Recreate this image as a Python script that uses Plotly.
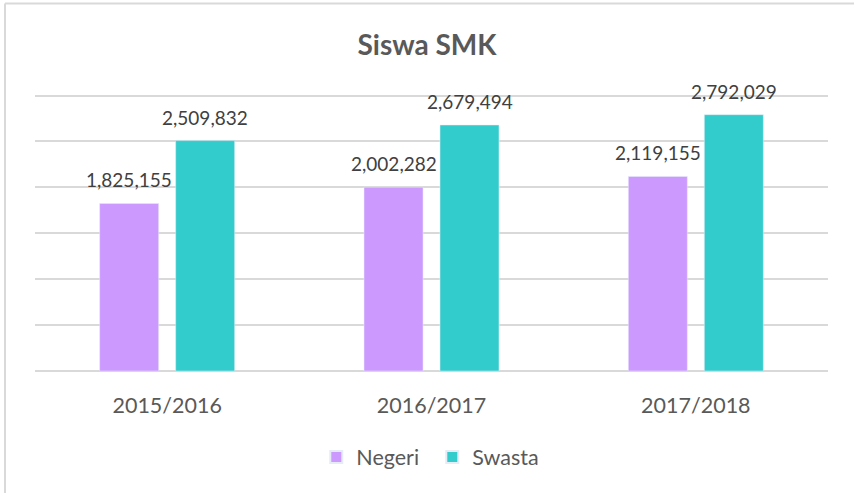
import plotly.graph_objects as go

categories = ["2015/2016", "2016/2017", "2017/2018"]
negeri = [1825155, 2002282, 2119155]
swasta = [2509832, 2679494, 2792029]

W, H = 854, 493
YMAX = 3050000
L, R, B = 35, 26, 122
PX_PER_UNIT = 275 / 3000000
ph = YMAX * PX_PER_UNIT
T = H - B - ph
pw = W - L - R

def px_x(x):
    return (x - L) / pw

def px_y(y):
    return (H - B - y) / ph

fnt = "Lato, Calibri, 'Open Sans', sans-serif"
lab_font = dict(size=19, color="#404040", family=fnt)

fig = go.Figure()
fig.add_trace(go.Bar(name="Negeri", x=categories, y=negeri, marker_color="#CC99FF"))
fig.add_trace(go.Bar(name="Swasta", x=categories, y=swasta, marker_color="#33CCCC"))

annotations = []
for cat, v in zip(categories, negeri):
    annotations.append(dict(x=cat, y=v, xref="x", yref="y", text=f"{v:,}",
                            showarrow=False, xshift=-38, yshift=10,
                            yanchor="bottom", font=lab_font))
for cat, v in zip(categories, swasta):
    annotations.append(dict(x=cat, y=v, xref="x", yref="y", text=f"{v:,}",
                            showarrow=False, xshift=38, yshift=10,
                            yanchor="bottom", font=lab_font))

fig.update_layout(
    width=W, height=H,
    margin=dict(l=L, r=R, t=T, b=B, autoexpand=False),
    paper_bgcolor="white", plot_bgcolor="white",
    barmode="group", bargap=0.425, bargroupgap=0.224,
    font=dict(family=fnt, color="#595959"),
    title=dict(text="<b>Siswa SMK</b>", x=0.5, xanchor="center",
               y=1 - 45 / H, yanchor="middle",
               font=dict(size=28, color="#595959", family=fnt)),
    legend=dict(orientation="h", x=0.501, xanchor="center",
                y=px_y(457), yanchor="middle",
                font=dict(size=21.5, color="#595959", family=fnt),
                itemsizing="constant", entrywidth=71, entrywidthmode="pixels"),
    xaxis=dict(showgrid=False, showline=False, ticks="",
               tickfont=dict(size=21.5, color="#595959", family=fnt),
               ticklabelstandoff=19, automargin=False),
    yaxis=dict(range=[0, YMAX], dtick=500000, showticklabels=False,
               showgrid=True, gridcolor="#D9D9D9", gridwidth=1.5,
               zeroline=True, zerolinecolor="#D9D9D9", zerolinewidth=1.5,
               showline=False, automargin=False),
    annotations=annotations,
    shapes=[
        dict(type="line", xref="paper", yref="paper",
             x0=px_x(5), x1=px_x(W + 5), y0=px_y(4), y1=px_y(4),
             line=dict(color="#D9D9D9", width=2)),
        dict(type="line", xref="paper", yref="paper",
             x0=px_x(5), x1=px_x(5), y0=px_y(4), y1=px_y(H + 5),
             line=dict(color="#D9D9D9", width=2)),
    ],
)

fig.write_html("out.html", config={"displayModeBar": False},
               post_script="document.body.style.margin='0';document.body.style.padding='0';")
